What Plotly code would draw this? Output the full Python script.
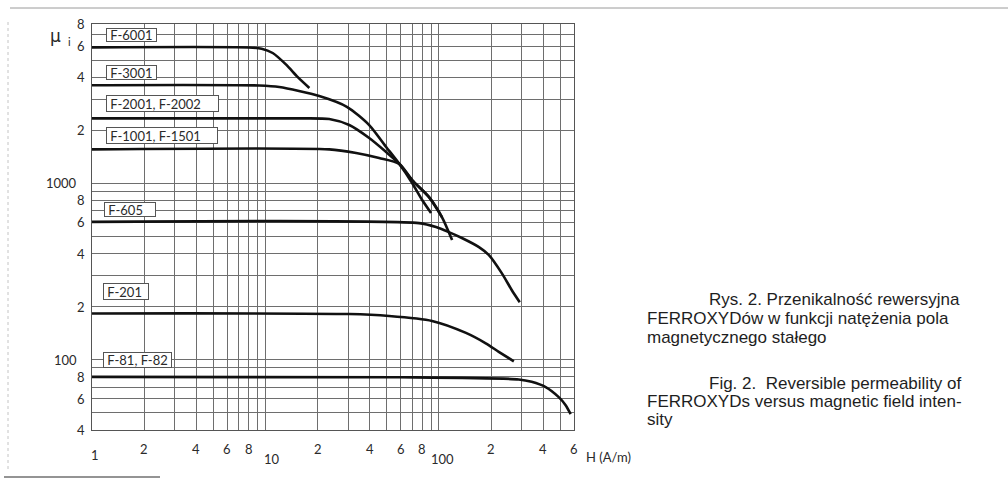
import numpy as np
import plotly.graph_objects as go

# ---------------- data ----------------
H_F6001 = [1, 8, 9.5, 11, 13.2, 15.3, 17.9]
MU_F6001 = [5900, 5890, 5800, 5480, 4690, 4010, 3470]

H_F3001 = [1, 9.2, 12, 20.4, 29.6, 39.6, 49.6, 59, 70, 80, 90]
MU_F3001 = [3600, 3585, 3515, 3125, 2707, 2140, 1607, 1290, 1004, 804, 679]

H_F2001 = [1, 15.7, 23.3, 30.4, 39.6, 49.6, 59, 70, 87.6, 104, 119]
MU_F2001 = [2336, 2336, 2315, 2140, 1806, 1504, 1290, 1044, 836, 644, 477]

H_F1001 = [1, 23.3, 33.3, 45.2, 59, 70, 87.6, 104]
MU_F1001 = [1558, 1558, 1485, 1391, 1290, 1044, 836, 644]

H_F605 = [1, 76.7, 96.1, 114, 135.5, 170, 194, 230, 263, 292]
MU_F605 = [605, 595, 565, 529, 490, 435, 392, 310, 248, 212]

H_F201 = [1, 30.4, 51.6, 91.2, 143, 186, 221, 270]
MU_F201 = [183, 181.6, 177, 166, 142, 124, 111, 98]

H_F81 = [1, 58.9, 288, 342, 412, 490, 537, 574]
MU_F81 = [80, 79.6, 77.4, 75, 70, 61.4, 55.3, 49.2]

SERIES_NAMES = ["F-6001", "F-3001", "F-2001, F-2002", "F-1001, F-1501", "F-605", "F-201", "F-81, F-82"]

X_GRID = [1, 2, 3, 4, 5, 6, 7, 8, 9, 10, 20, 30, 40, 50, 60, 70, 80, 90, 100, 200, 300, 400, 500]
Y_GRID = [40, 50, 60, 70, 80, 90, 100, 200, 300, 400, 500, 600, 700, 800, 900,
          1000, 2000, 3000, 4000, 5000, 6000, 7000, 8000]

X_TICK_VALS = [1, 2, 4, 6, 8, 10, 20, 40, 60, 80, 100, 200, 400, 600]
X_TICK_TEXT = ["1", "2", "4", "6", "8", "10", "2", "4", "6", "8", "100", "2", "4", "6"]
Y_TICK_VALS = [40, 60, 80, 100, 200, 400, 600, 800, 1000, 2000, 4000, 6000, 8000]
Y_TICK_TEXT = ["4", "6", "8", "100", "2", "4", "6", "8", "1000", "2", "4", "6", "8"]

X_RANGE = [1, 600]
Y_RANGE = [40, 8000]

CAPTION_PL = ["Rys. 2. Przenikalność rewersyjna",
              "FERROXYDów w funkcji natężenia pola",
              "magnetycznego stałego"]
CAPTION_EN = ["Fig. 2.  Reversible permeability of",
              "FERROXYDs versus magnetic field inten-",
              "sity"]

# ---------------- layout geometry (pixels) ----------------
W, H = 1008, 481
L, R, T, B = 92, 574, 24, 430


def px(x):
    return (x - L) / (R - L)


def py(y):
    return (B - y) / (B - T)


TICK_FONT = dict(family="Lato, 'Open Sans', sans-serif", size=13, color="#2a2a2a")
CAP_FONT = dict(family="'Liberation Sans', Arial, sans-serif", size=17, color="#1e1e1e")

fig = go.Figure()

series = [(H_F6001, MU_F6001), (H_F3001, MU_F3001), (H_F2001, MU_F2001),
          (H_F1001, MU_F1001), (H_F605, MU_F605), (H_F201, MU_F201), (H_F81, MU_F81)]
for name, (hx, my) in zip(SERIES_NAMES, series):
    fig.add_trace(go.Scatter(x=hx, y=my, mode="lines", name=name,
                             line=dict(color="#111111", width=2.6, shape="spline", smoothing=0.7),
                             hoverinfo="name+x+y"))

annotations = []

# series label boxes: (left, top, width, height) in px
boxes = [(106, 28, 51, 14), (106, 65, 51, 15), (106, 95, 113, 17), (106, 127, 112, 17),
         (104, 202, 52, 15), (103, 283, 46, 17), (103, 352, 69, 16)]
for name, (bl, bt, bw, bh) in zip(SERIES_NAMES, boxes):
    annotations.append(dict(
        text="\u00a0" + name, xref="paper", yref="paper", x=px(bl), y=py(bt),
        xanchor="left", yanchor="top", showarrow=False, align="left",
        width=bw - 2, height=bh - 2, borderpad=0, borderwidth=1,
        bordercolor="#555555", bgcolor="white", font=TICK_FONT))

# x tick labels
for v, t in zip(X_TICK_VALS, X_TICK_TEXT):
    ypix = 449
    dx = 0
    if t == "1":
        ypix, dx = 455, 3
    elif t in ("10", "100"):
        ypix, dx = 459, 6 if t == "10" else 4
    annotations.append(dict(text=t, xref="x", yref="paper", x=np.log10(v), y=py(ypix),
                            xshift=dx, xanchor="center", yanchor="middle",
                            showarrow=False, font=TICK_FONT))
annotations.append(dict(text="H (A/m)", xref="paper", yref="paper", x=px(584), y=py(457),
                        xanchor="left", yanchor="middle", showarrow=False, font=TICK_FONT))

# y tick labels
for v, t in zip(Y_TICK_VALS, Y_TICK_TEXT):
    right = 79 if len(t) > 1 else 87
    annotations.append(dict(text=t, xref="paper", yref="y", x=px(right), y=np.log10(v),
                            xanchor="right", yanchor="middle", showarrow=False, font=TICK_FONT))

# axis title mu_i
annotations.append(dict(text="μ", xref="paper", yref="paper", x=px(55), y=py(36),
                        xanchor="center", yanchor="middle", showarrow=False,
                        font=dict(family="'DejaVu Sans', sans-serif", size=17, color="#2a2a2a")))
annotations.append(dict(text="i", xref="paper", yref="paper", x=px(69), y=py(41),
                        xanchor="center", yanchor="middle", showarrow=False,
                        font=dict(family="Lato, sans-serif", size=11, color="#2a2a2a")))

# caption
cap_lines = [(CAPTION_PL[0], 707, 299), (CAPTION_PL[1], 645, 318), (CAPTION_PL[2], 645, 337),
             (CAPTION_EN[0], 707, 383), (CAPTION_EN[1], 645, 401), (CAPTION_EN[2], 645, 419)]
for t, xl, yc in cap_lines:
    annotations.append(dict(text=t, xref="paper", yref="paper", x=px(xl), y=py(yc),
                            xanchor="left", yanchor="middle", showarrow=False, font=CAP_FONT))

shapes = [
    dict(type="line", xref="paper", yref="paper", x0=px(10), x1=px(1008), y0=py(8), y1=py(8),
         line=dict(color="#9a9a9a", width=1)),
    dict(type="line", xref="paper", yref="paper", x0=px(8), x1=px(8), y0=py(22), y1=py(470),
         line=dict(color="#c4c4c4", width=1, dash="dot")),
    dict(type="line", xref="paper", yref="paper", x0=px(4), x1=px(160), y0=py(477), y1=py(477),
         line=dict(color="#707070", width=1.5)),
]

fig.update_layout(
    width=W, height=H,
    margin=dict(l=L, r=W - R, t=T, b=H - B, pad=0),
    paper_bgcolor="white", plot_bgcolor="white",
    showlegend=False,
    annotations=annotations,
    shapes=shapes,
    xaxis=dict(type="log", range=[np.log10(X_RANGE[0]), np.log10(X_RANGE[1])],
               tickvals=X_GRID, showticklabels=False, ticks="",
               showgrid=True, gridcolor="#6e6e6e", gridwidth=1,
               showline=True, linecolor="#555555", linewidth=1, mirror=True, zeroline=False),
    yaxis=dict(type="log", range=[np.log10(Y_RANGE[0]), np.log10(Y_RANGE[1])],
               tickvals=Y_GRID, showticklabels=False, ticks="",
               showgrid=True, gridcolor="#6e6e6e", gridwidth=1,
               showline=True, linecolor="#555555", linewidth=1, mirror=True, zeroline=False),
)

fig.write_html("out.html")
